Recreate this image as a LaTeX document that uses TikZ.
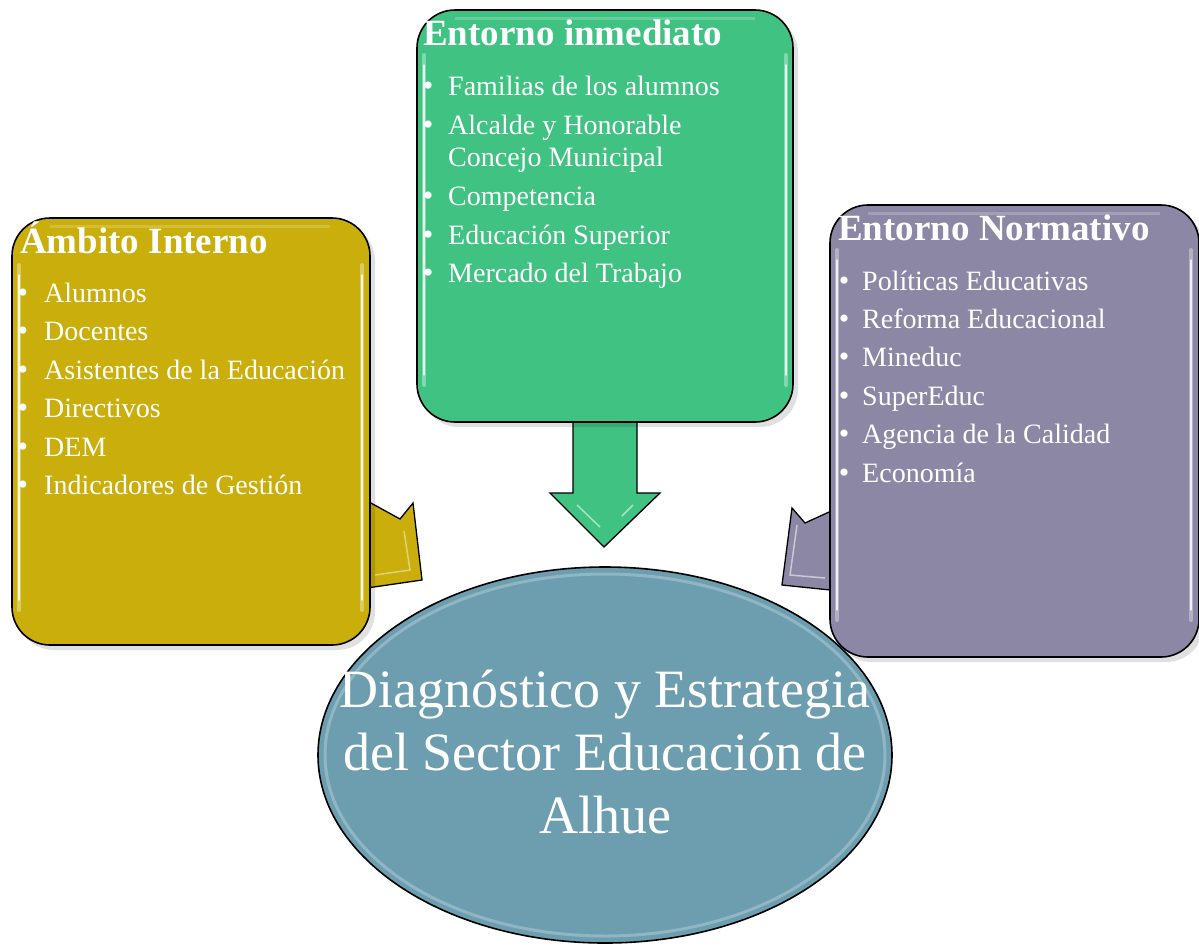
\documentclass[tikz,border=0pt]{standalone}
\usepackage{fontspec}
\setmainfont{Liberation Serif}
\definecolor{cyel}{RGB}{201,174,12}
\definecolor{cgrn}{RGB}{64,194,131}
\definecolor{cpur}{RGB}{140,135,165}
\definecolor{cell}{RGB}{108,158,175}
\tikzset{
  panel/.style={draw=black, line width=1.6pt, rounded corners=38pt},
  blockarrow/.style={draw=black, line width=1.3pt, line join=miter},
  gloss/.style={white, line width=4pt, opacity=0.35, line cap=round},
  glosscore/.style={white, line width=1.4pt, opacity=0.8, line cap=round},
  ttl/.style={anchor=base west, inner sep=0pt, text=white, font=\fontsize{37}{42}\selectfont\bfseries},
  itm/.style={anchor=base west, inner sep=0pt, text=white, font=\fontsize{28}{32}\selectfont},
  bul/.style={anchor=base, inner sep=0pt, text=white, font=\fontsize{30}{32}\selectfont},
  big/.style={anchor=base, inner sep=0pt, text=white, font=\fontsize{54}{60}\selectfont}
}
\begin{document}
\begin{tikzpicture}[x=1pt,y=-1pt]
\useasboundingbox (0,0) rectangle (1199,946);
% central ellipse
\draw[fill=cell, draw=black, line width=1.6pt] (605,755) ellipse [x radius=287, y radius=188];
\draw[white, opacity=0.25, line width=3pt] (605,755) ellipse [x radius=280, y radius=181];
\coordinate (ec) at (605,755);
% arrows
\draw[blockarrow, fill=cyel] (360,497) -- (400,519) -- (413,503) -- (422,580) -- (360,589) -- cycle;
\draw[white, opacity=0.45, line width=1.5pt] (404,531) -- (410,570) -- (375,575);
\draw[blockarrow, fill=cpur] (840,507) -- (805,523) -- (792,508) -- (782,585) -- (840,591) -- cycle;
\draw[white, opacity=0.55, line width=1.5pt] (797,525) -- (790,575) -- (825,578);
\draw[blockarrow, fill=cgrn] (573,410) -- (573,493) -- (550,493) -- (604,547) -- (660,493) -- (637,493) -- (637,410) -- cycle;
\draw[white, opacity=0.55, line width=1.5pt] (577,505) -- (600,527);
\draw[white, opacity=0.55, line width=1.5pt] (633,505) -- (622,516);
% shadows
\fill[black, opacity=0.12, rounded corners=38pt] (16,223) rectangle (375,650);
\fill[black, opacity=0.12, rounded corners=38pt] (421,15) rectangle (798,427);
\fill[black, opacity=0.12, rounded corners=38pt] (834,210) rectangle (1204,662);
% panels
\draw[panel, fill=cyel] (12,218) rectangle (370,645);
\draw[panel, fill=cgrn] (417,10) rectangle (793,422);
\draw[panel, fill=cpur] (830,205) rectangle (1199,657);
% gloss highlights
\foreach \x/\a/\b in {19/265/610, 362/265/610, 424/55/385, 786/55/385, 837/250/620, 1191/250/620}{
  \draw[gloss] (\x,\a) -- (\x,\b);
  \draw[glosscore] (\x,\a+10) -- (\x,\b-10);
}
\draw[white, opacity=0.2, line width=3pt] (50,226) -- (330,226);
\draw[white, opacity=0.2, line width=3pt] (455,18) -- (755,18);
\draw[white, opacity=0.2, line width=3pt] (868,213) -- (1160,213);
% left panel text
\node[ttl] (t1) at (20,253) {Ámbito Interno};
\foreach \y/\txt [count=\i] in {302/Alumnos, 340.5/Docentes, 379/Asistentes de la Educación, 417.5/Directivos, 456/DEM, 494.5/Indicadores de Gestión}{
  \node[bul] (b1\i) at (23,\y) {•};
  \node[itm] (i1\i) at (44,\y) {\txt};
}
% middle panel text
\node[ttl] (t2) at (423,45) {Entorno inmediato};
\foreach \y/\txt [count=\i] in {95/Familias de los alumnos, 134/Alcalde y Honorable, 205/Competencia, 244/Educación Superior, 282/Mercado del Trabajo}{
  \node[bul] (b2\i) at (428,\y) {•};
  \node[itm] (i2\i) at (448,\y) {\txt};
}
\node[itm] (i2x) at (448,166) {Concejo Municipal};
% right panel text
\node[ttl] (t3) at (838,240) {Entorno Normativo};
\foreach \y/\txt [count=\i] in {290/Políticas Educativas, 328/Reforma Educacional, 366/Mineduc, 405/SuperEduc, 443/Agencia de la Calidad, 482/Economía}{
  \node[bul] (b3\i) at (844,\y) {•};
  \node[itm] (i3\i) at (862,\y) {\txt};
}
% ellipse text
\node[big] (e1) at (605,707) {Diagnóstico y Estrategia};
\node[big] (e2) at (605,770) {del Sector Educación de};
\node[big] (e3) at (605,833) {Alhue};
\end{tikzpicture}
\end{document}
